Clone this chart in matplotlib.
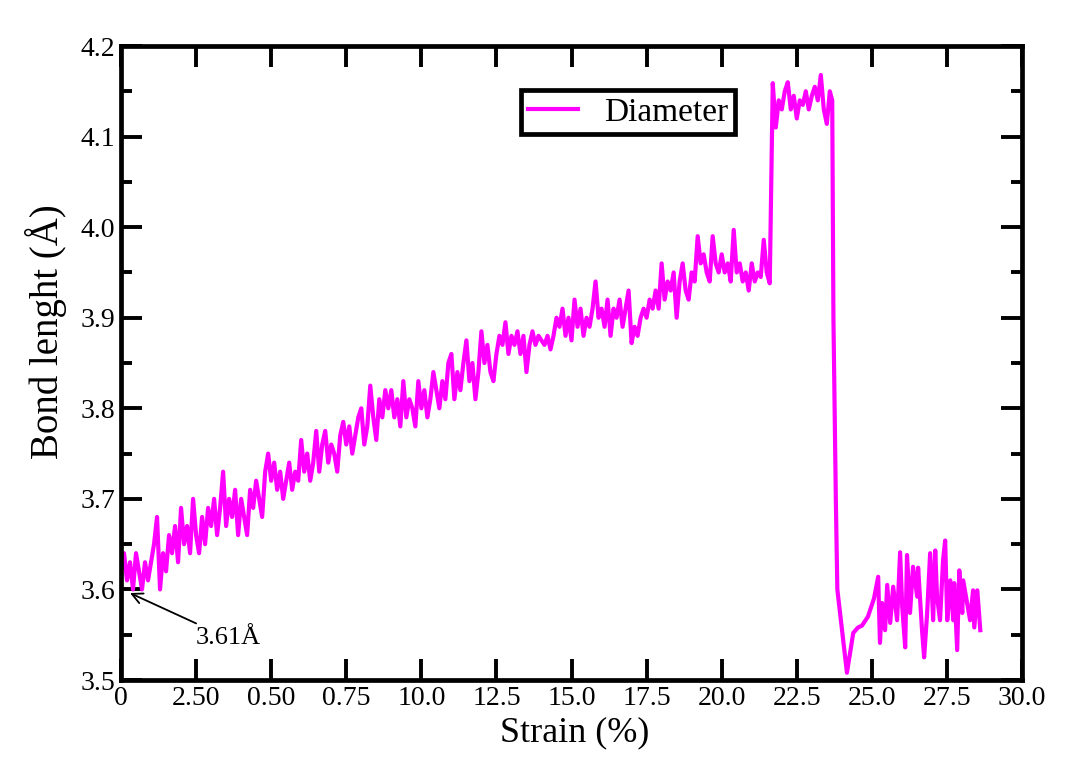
import numpy as np
import matplotlib
matplotlib.use("Agg")
import matplotlib.pyplot as plt

plt.rcParams['font.family'] = 'serif'
plt.rcParams['font.serif'] = ['Liberation Serif', 'DejaVu Serif']

STEP = 0.1  # strain increment of the loading run (%)

# bond length while the wire is stretched elastically (0 -> 21.6 %)
bond_rise = [
    3.62, 3.64, 3.61, 3.63, 3.60, 3.64, 3.62, 3.60, 3.63, 3.61,
    3.63, 3.65, 3.68, 3.60, 3.64, 3.62, 3.66, 3.64, 3.67, 3.63,
    3.69, 3.65, 3.67, 3.64, 3.70, 3.66, 3.64, 3.68, 3.65, 3.69,
    3.67, 3.70, 3.66, 3.69, 3.73, 3.67, 3.70, 3.68, 3.71, 3.66,
    3.70, 3.68, 3.66, 3.71, 3.69, 3.72, 3.70, 3.68, 3.73, 3.75,
    3.72, 3.74, 3.71, 3.73, 3.70, 3.72, 3.74, 3.71, 3.73, 3.72,
    3.765, 3.73, 3.75, 3.72, 3.74, 3.775, 3.73, 3.76, 3.775, 3.74,
    3.76, 3.75, 3.73, 3.77, 3.785, 3.76, 3.78, 3.75, 3.77, 3.79,
    3.80, 3.76, 3.78, 3.825, 3.79, 3.765, 3.81, 3.79, 3.82, 3.80,
    3.82, 3.79, 3.81, 3.78, 3.83, 3.79, 3.81, 3.80, 3.78, 3.83,
    3.80, 3.82, 3.79, 3.81, 3.84, 3.82, 3.80, 3.83, 3.81, 3.85,
    3.86, 3.81, 3.84, 3.82, 3.85, 3.875, 3.83, 3.85, 3.81, 3.84,
    3.885, 3.85, 3.87, 3.84, 3.83, 3.86, 3.88, 3.87, 3.895, 3.86,
    3.88, 3.87, 3.885, 3.86, 3.88, 3.84, 3.87, 3.885, 3.87, 3.88,
    3.875, 3.87, 3.88, 3.865, 3.88, 3.90, 3.89, 3.91, 3.88, 3.90,
    3.875, 3.92, 3.89, 3.91, 3.88, 3.90, 3.89, 3.91, 3.94, 3.90,
    3.91, 3.89, 3.92, 3.88, 3.91, 3.90, 3.92, 3.89, 3.91, 3.93,
    3.872, 3.89, 3.88, 3.90, 3.91, 3.90, 3.92, 3.91, 3.93, 3.91,
    3.96, 3.92, 3.94, 3.93, 3.95, 3.90, 3.94, 3.96, 3.93, 3.92,
    3.95, 3.94, 3.99, 3.96, 3.97, 3.95, 3.94, 3.99, 3.96, 3.95,
    3.97, 3.95, 3.96, 3.94, 3.997, 3.95, 3.96, 3.94, 3.95, 3.93,
    3.96, 3.94, 3.95, 3.945, 3.986, 3.95, 3.938,
]

# plateau after the structural jump (21.7 -> 23.6 %)
bond_plateau = [
    4.159, 4.11, 4.14, 4.13, 4.15, 4.16, 4.13, 4.145, 4.12, 4.14,
    4.135, 4.15, 4.13, 4.145, 4.155, 4.14, 4.168, 4.13, 4.114, 4.15,
]

# rupture and relaxation
strain_break = [23.68, 23.72, 23.80, 23.85, 24.17, 24.38, 24.54, 24.67,
                24.87, 25.07, 25.21]
bond_break = [4.14, 3.90, 3.70, 3.60, 3.508, 3.552, 3.558, 3.56,
              3.57, 3.59, 3.614]

# fluctuations of the broken wire
strain_tail = [25.27, 25.34, 25.44, 25.51, 25.61, 25.71, 25.84, 25.94,
               26.01, 26.11, 26.17, 26.27, 26.37, 26.51, 26.54, 26.67,
               26.74, 26.84, 26.94, 27.04, 27.11, 27.17, 27.27, 27.37,
               27.44, 27.51, 27.61, 27.71, 27.74, 27.84, 27.91, 28.01,
               28.04, 28.17, 28.27, 28.37, 28.41, 28.51, 28.61]
bond_tail = [3.541, 3.585, 3.555, 3.605, 3.563, 3.603, 3.566, 3.641,
             3.581, 3.536, 3.638, 3.574, 3.625, 3.592, 3.624, 3.555,
             3.525, 3.574, 3.640, 3.566, 3.643, 3.592, 3.566, 3.632,
             3.654, 3.566, 3.610, 3.566, 3.607, 3.533, 3.621, 3.574,
             3.610, 3.585, 3.566, 3.599, 3.558, 3.599, 3.555]

xtick_pos = [0, 2.5, 5, 7.5, 10, 12.5, 15, 17.5, 20, 22.5, 25, 27.5, 30]
xtick_lab = ['0', '2.50', '0.50', '0.75', '10.0', '12.5', '15.0', '17.5',
             '20.0', '22.5', '25.0', '27.5', '30.0']
ytick_pos = [3.5, 3.6, 3.7, 3.8, 3.9, 4.0, 4.1, 4.2]

strain_rise = np.arange(len(bond_rise)) * STEP
strain_plateau = 21.7 + np.arange(len(bond_plateau)) * STEP

strain = np.concatenate([strain_rise, strain_plateau, strain_break, strain_tail])
bond = np.concatenate([bond_rise, bond_plateau, bond_break, bond_tail])

fig = plt.figure(figsize=(10.91, 7.58), dpi=100)
ax = fig.add_axes([0.1109, 0.1029, 0.8259, 0.8364])

ax.plot(strain, bond, color='#ff00ff', lw=3.0, label='Diameter')

ax.set_xlim(0, 30)
ax.set_ylim(3.5, 4.2)
ax.set_xticks(xtick_pos)
ax.set_xticklabels(xtick_lab)
ax.set_yticks(ytick_pos)
ax.set_yticklabels([f'{v:.1f}' for v in ytick_pos])
ax.set_yticks(np.array(ytick_pos[:-1]) + 0.05, minor=True)

for sp in ax.spines.values():
    sp.set_linewidth(3.4)
ax.tick_params(which='major', direction='in', length=15, width=2.8,
               top=True, right=True, labelsize=20, pad=4)
ax.tick_params(which='minor', direction='in', length=8, width=2.8,
               top=True, right=True)

ax.set_xlabel('Strain (%)', fontsize=26)
ax.set_ylabel('Bond lenght (Å)', fontsize=28)
ax.xaxis.set_label_coords(0.504, -0.058)
ax.yaxis.set_label_coords(-0.06, 0.55)

ax.annotate('3.61Å', xy=(0.3, 3.596), xytext=(2.5, 3.546),
            fontsize=19, va='center', ha='left',
            arrowprops=dict(arrowstyle='->', color='black', lw=1.3,
                            shrinkA=2, shrinkB=0))

leg = ax.legend(loc='upper left', bbox_to_anchor=(0.444, 0.93),
                fontsize=24, frameon=True, fancybox=False, framealpha=1,
                handlelength=1.5, handletextpad=0.8, borderpad=0.2,
                borderaxespad=0)
leg.get_frame().set_edgecolor('black')
leg.get_frame().set_linewidth(3.4)
for h in leg.get_lines():
    h.set_linewidth(3)

fig.savefig('out.png', dpi=100)
